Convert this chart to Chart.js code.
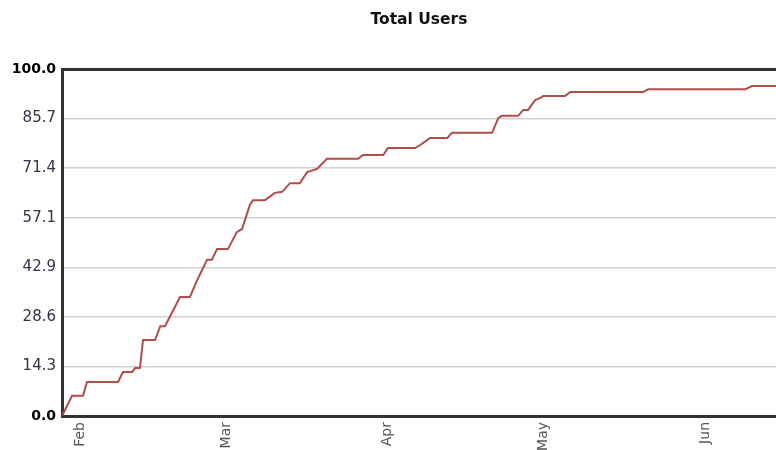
<!DOCTYPE html>
<html>
<head>
<meta charset="utf-8">
<script src="https://cdn.jsdelivr.net/npm/chart.js@4/dist/chart.umd.min.js"></script>
<style>
html,body{margin:0;padding:0;background:#fff;}
#wrap{width:776px;height:450px;}
</style>
</head>
<body>
<div id="wrap"><canvas id="c" width="776" height="450"></canvas></div>
<script>
// Day offsets from Feb 1 (day 0) where the cumulative curve changes slope
const days = [-3.46,-1.54,0.58,1.34,7.3,8.26,10.0,10.6,11.5,12.1,14.4,15.4,16.3,19.2,21.1,22.5,24.4,25.3,26.3,28.4,30.1,31.1,32.6,33.2,35.5,37.4,38.8,40.3,42.2,43.6,45.5,47.4,53.4,54.3,58.2,59.1,64.3,65.3,65.9,67.2,70.5,71.4,79.1,80.3,81.0,84.1,85.1,86.0,87.4,88.3,88.9,93.1,94.1,108.1,109.1,127.7,129.0,133.6];
const users = [0,5.8,5.8,9.8,9.8,12.7,12.7,13.8,13.8,21.9,21.9,25.9,25.9,34.3,34.3,39.2,45.0,45.0,48.1,48.1,53.0,53.9,60.8,62.2,62.2,64.3,64.6,67.1,67.1,70.3,71.2,74.1,74.1,75.2,75.2,77.2,77.2,78.1,78.7,80.1,80.1,81.6,81.6,85.9,86.5,86.5,88.2,88.2,91.1,91.6,92.2,92.2,93.4,93.4,94.2,94.2,95.1,95.1];
const monthTicks = [0,28,59,89,120];
const monthLabels = ['Feb','Mar','Apr','May','Jun'];
const yTicks = [0,14.2857,28.5714,42.8571,57.1429,71.4286,85.7143,100];

const points = days.map((d,i)=>({x:d,y:users[i]}));

new Chart(document.getElementById('c'), {
  type: 'line',
  data: {
    datasets: [{
      label: 'Total Users',
      data: points,
      borderColor: '#b04e4a',
      borderWidth: 2,
      pointRadius: 0,
      tension: 0,
      fill: false
    }]
  },
  options: {
    responsive: false,
    animation: false,
    devicePixelRatio: 1,
    layout: {padding: {left: 0, right: 0, top: 0, bottom: 0}},
    plugins: {
      legend: {display: false},
      tooltip: {enabled: false},
      title: {
        display: true,
        text: 'Total Users',
        fullSize: false,
        color: '#111',
        font: {family: 'DejaVu Sans', size: 15.5, weight: 'bold'},
        padding: {top: 11, bottom: 39.4}
      }
    },
    scales: {
      x: {
        type: 'linear',
        min: -3.46,
        max: 133.6,
        afterBuildTicks: (s) => { s.ticks = monthTicks.map(v => ({value: v})); },
        afterFit: (s) => { s.height = 34; },
        grid: {display: false, drawTicks: false},
        border: {display: true, color: '#333', width: 3},
        ticks: {
          autoSkip: false,
          minRotation: 90,
          maxRotation: 90,
          padding: 6,
          color: '#555',
          font: {family: 'DejaVu Sans', size: 14},
          callback: (v) => { const i = monthTicks.indexOf(v); return i >= 0 ? monthLabels[i] : ''; }
        }
      },
      y: {
        type: 'linear',
        min: 0,
        max: 100,
        afterBuildTicks: (s) => { s.ticks = yTicks.map(v => ({value: v})); },
        afterFit: (s) => { s.width = 62; },
        grid: {
          drawTicks: false,
          color: (ctx) => (ctx.tick && (ctx.tick.value === 100)) ? '#333' : '#d0d0d0',
          lineWidth: (ctx) => (ctx.tick && (ctx.tick.value === 100)) ? 3 : 1.5
        },
        border: {display: true, color: '#333', width: 3},
        ticks: {
          padding: 6,
          color: (ctx) => (ctx.tick && (ctx.tick.value === 100 || ctx.tick.value === 0)) ? '#000' : '#2f3545',
          font: (ctx) => ({family: 'DejaVu Sans', size: (ctx.tick && (ctx.tick.value === 100 || ctx.tick.value === 0)) ? 14 : 15, weight: (ctx.tick && (ctx.tick.value === 100 || ctx.tick.value === 0)) ? 'bold' : 'normal'}),
          callback: (v) => Number(v).toFixed(1)
        }
      }
    }
  }
});
</script>
</body>
</html>
